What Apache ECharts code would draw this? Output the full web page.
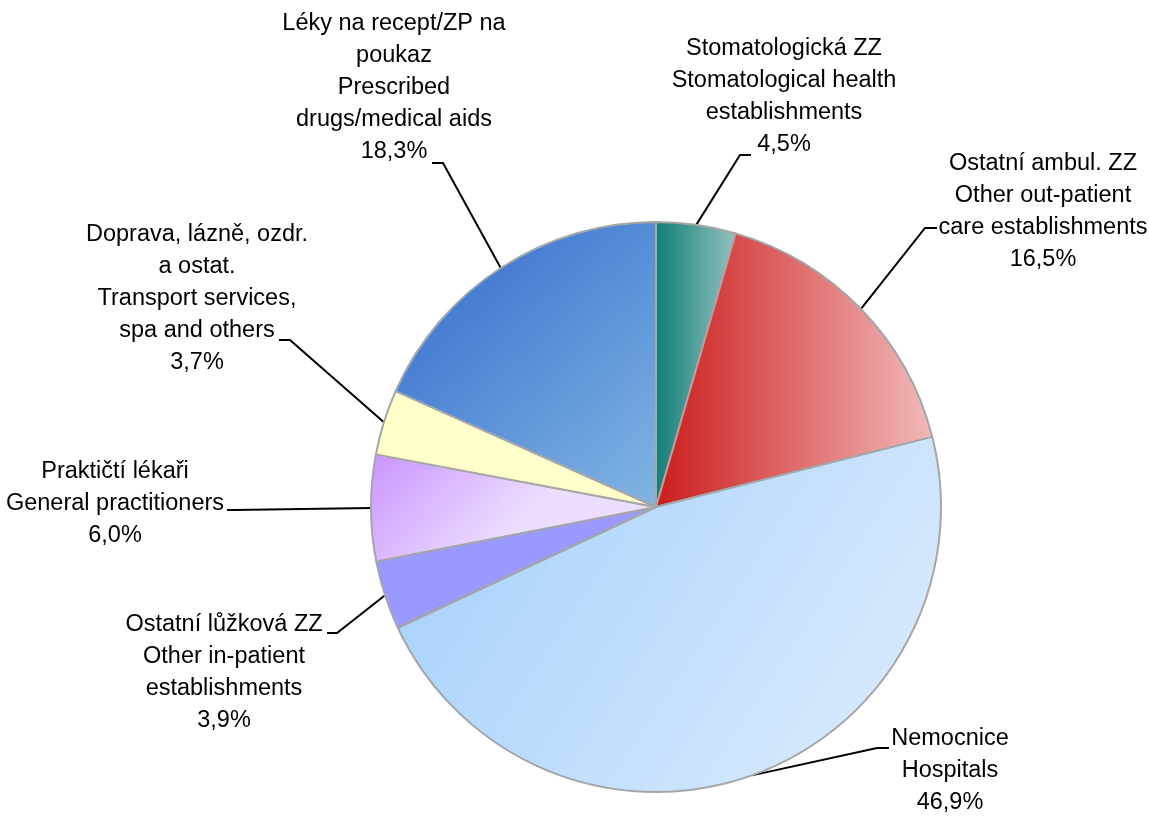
<!DOCTYPE html>
<html>
<head>
<meta charset="utf-8">
<script src="https://cdn.jsdelivr.net/npm/echarts@6/dist/echarts.min.js"></script>
<style>
    html, body { margin: 0; padding: 0; background: #fff; }
    #pie1 { width: 1149px; height: 816px; }
</style>
</head>
<body>
<div id="pie1"></div>
<script>
    // categories (Czech / English) and shares in %
    var categories = [
        'Stomatologická ZZ\nStomatological health\nestablishments',
        'Ostatní ambul. ZZ\nOther out-patient\ncare establishments',
        'Nemocnice\nHospitals',
        'Ostatní lůžková ZZ\nOther in-patient\nestablishments',
        'Praktičtí lékaři\nGeneral practitioners',
        'Doprava, lázně, ozdr.\na ostat.\nTransport services,\nspa and others',
        'Léky na recept/ZP na\npoukaz\nPrescribed\ndrugs/medical aids'
    ];
    var shares = [4.5, 16.5, 46.9, 3.9, 6.0, 3.7, 18.3];

    // slice fills: [from, to, x2, y2] of a linear gradient
    var fills = [
        ['#127d77', '#94c3bf', 1, 0],
        ['#cc1c1c', '#f2baba', 1, 0],
        ['#a3cffc', '#deedfd', 1, 1],
        ['#9999ff', '#9999ff', 1, 0],
        ['#c994ff', '#ecdeff', 0.4, 1],
        ['#ffffcc', '#ffffcc', 1, 0],
        ['#3069cb', '#82b5e3', 1, 1]
    ];

    // label placement: text centre x, text top y, elbow x, elbow y, line end x
    var labelPos = [
        [784, 33, 740, 155, 751],
        [1043, 148, 925, 228, 937],
        [950, 723, 877, 748, 889],
        [224, 609, 337, 633, 327],
        [115, 456, 234, 510, 227],
        [197, 219, 290, 340, 279],
        [394, 8, 443, 163, 432]
    ];

    var myChart = echarts.init(document.getElementById('pie1'));

    var seriesData = categories.map(function (name, i) {
        var f = fills[i];
        return {
            name: name,
            value: shares[i],
            itemStyle: {
                color: new echarts.graphic.LinearGradient(0, 0, f[2], f[3], [
                    { offset: 0, color: f[0] },
                    { offset: 1, color: f[1] }
                ])
            }
        };
    });

    var option = {
        animation: false,
        series: [
            {
                type: 'pie',
                center: [656, 507],
                radius: 285,
                startAngle: 90,
                clockwise: true,
                avoidLabelOverlap: false,
                data: seriesData,
                itemStyle: {
                    borderColor: '#a6a6a6',
                    borderWidth: 2
                },
                label: {
                    show: true,
                    position: 'outside',
                    color: '#000',
                    fontFamily: '"Liberation Sans", Arial, sans-serif',
                    fontSize: 23.5,
                    lineHeight: 32,
                    align: 'center',
                    formatter: function (p) {
                        return p.name + '\n' + p.value.toFixed(1).replace('.', ',') + '%';
                    }
                },
                labelLine: {
                    show: true,
                    length: 20,
                    length2: 10,
                    lineStyle: { color: '#000', width: 2 }
                },
                labelLayout: function (params) {
                    var L = labelPos[params.dataIndex];
                    var p0 = params.labelLinePoints[0];
                    return {
                        x: L[0],
                        y: L[1],
                        align: 'center',
                        verticalAlign: 'top',
                        labelLinePoints: [p0, [L[2], L[3]], [L[4], L[3]]]
                    };
                },
                emphasis: { disabled: true }
            }
        ]
    };
    myChart.setOption(option);
</script>
</body>
</html>
